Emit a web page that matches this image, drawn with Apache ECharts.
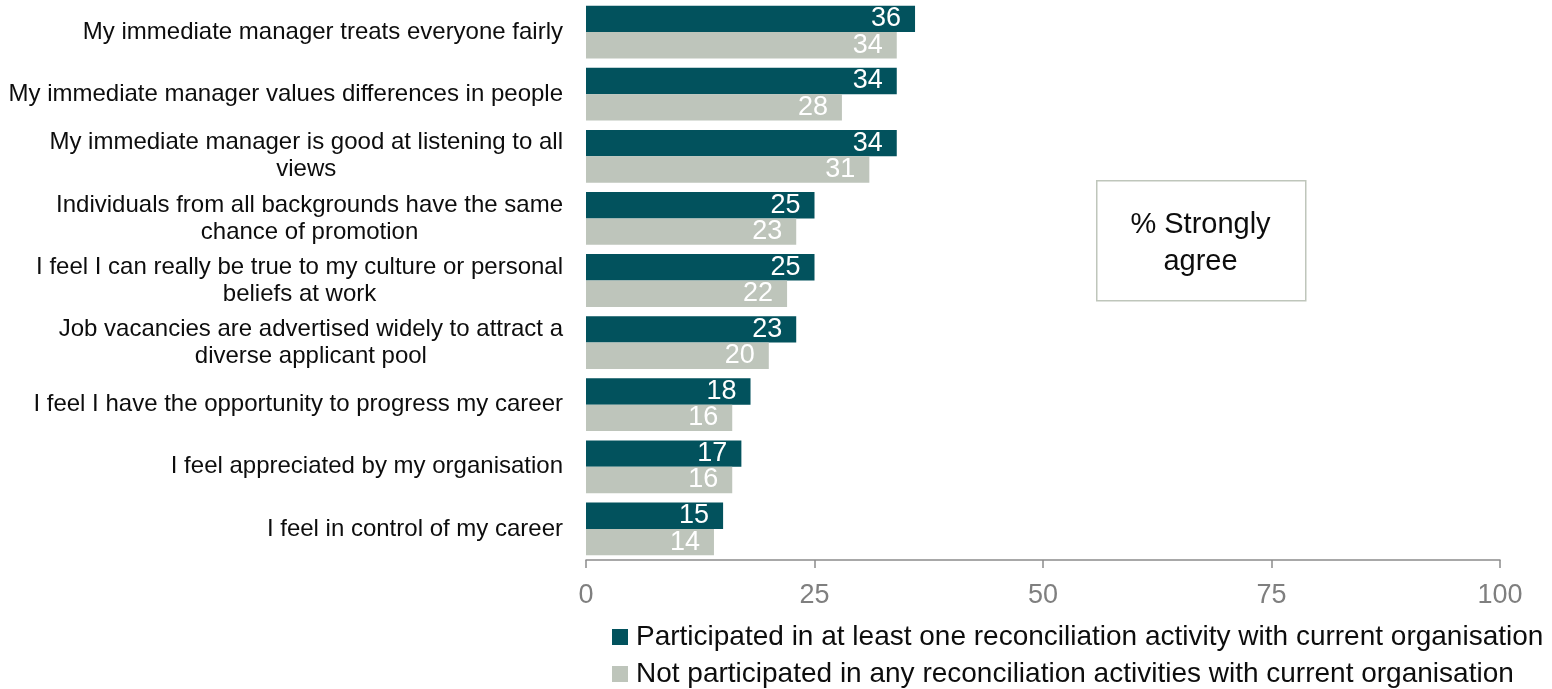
<!DOCTYPE html>
<html>
<head>
<meta charset="utf-8">
<script src="https://cdn.jsdelivr.net/npm/echarts@6/dist/echarts.min.js"></script>
<style>
  html, body { margin: 0; padding: 0; background: #fff; }
  #chart { width: 1552px; height: 689px; }
</style>
</head>
<body>
<div id="chart"></div>
<script>
// Survey statements, top to bottom
const categories = [
  'My immediate manager treats everyone fairly',
  'My immediate manager values differences in people',
  'My immediate manager is good at listening to all\nviews',
  'Individuals from all backgrounds have the same\nchance of promotion',
  'I feel I can really be true to my culture or personal\nbeliefs at work',
  'Job vacancies are advertised widely to attract a\ndiverse applicant pool',
  'I feel I have the opportunity to progress my career',
  'I feel appreciated by my organisation',
  'I feel in control of my career'
];

const seriesNames = [
  'Participated in at least one reconciliation activity with current organisation',
  'Not participated in any reconciliation activities with current organisation'
];

// % strongly agree
const participated = [36, 34, 34, 25, 25, 23, 18, 17, 15];
const notParticipated = [34, 28, 31, 23, 22, 20, 16, 16, 14];

const xTicks = [0, 25, 50, 75, 100];

const TEAL = '#02525D';
const SAGE = '#BEC5BB';
const INK = '#0D0D0D';
const FONT = '"Liberation Sans", Arial, sans-serif';

const chart = echarts.init(document.getElementById('chart'));

const valueLabel = {
  show: true,
  position: 'insideRight',
  distance: 14,
  color: '#ffffff',
  fontSize: 27,
  fontFamily: FONT
};

chart.setOption({
  animation: false,
  textStyle: { fontFamily: FONT },
  grid: { left: 586, right: 52, top: 1, bottom: 129, containLabel: false },
  xAxis: {
    type: 'value',
    min: xTicks[0],
    max: xTicks[xTicks.length - 1],
    interval: 25,
    splitLine: { show: false },
    axisLine: { show: true, lineStyle: { color: '#8C8C8C', width: 1.5 } },
    axisTick: { show: true, length: 8, lineStyle: { color: '#8C8C8C', width: 1.5 } },
    axisLabel: { color: '#7F7F7F', fontSize: 27, fontFamily: FONT, margin: 22 }
  },
  yAxis: {
    type: 'category',
    inverse: true,
    data: categories,
    axisLine: { show: false },
    axisTick: { show: false },
    axisLabel: {
      margin: 23,
      align: 'right',
      formatter: function (v) {
        return v.split('\n').map(function (l) { return '{c|' + l + '}'; }).join('\n');
      },
      rich: {
        c: { align: 'center', fontSize: 24, lineHeight: 27, color: INK, fontFamily: FONT }
      }
    }
  },
  legend: {
    orient: 'vertical',
    left: 612,
    top: 623,
    height: 66,
    padding: 0,
    itemWidth: 16,
    itemHeight: 16,
    itemGap: 9,
    icon: 'rect',
    textStyle: { fontSize: 28, lineHeight: 28, color: INK, fontFamily: FONT, padding: [0, 0, 0, 3] },
    data: seriesNames
  },
  series: [
    {
      name: seriesNames[0],
      type: 'bar',
      data: participated,
      barGap: '0%',
      barCategoryGap: '15%',
      itemStyle: { color: TEAL },
      label: valueLabel
    },
    {
      name: seriesNames[1],
      type: 'bar',
      data: notParticipated,
      barGap: '0%',
      barCategoryGap: '15%',
      itemStyle: { color: SAGE },
      label: valueLabel
    }
  ],
  graphic: [
    {
      type: 'rect',
      left: 1096,
      top: 180,
      shape: { width: 209, height: 120 },
      style: { fill: '#ffffff', stroke: '#BFC6BB', lineWidth: 1.5 }
    },
    {
      type: 'text',
      x: 1200.5,
      y: 243,
      style: {
        text: '% Strongly\nagree',
        align: 'center',
        verticalAlign: 'middle',
        fontSize: 29,
        lineHeight: 37,
        fill: INK,
        fontFamily: FONT
      }
    }
  ]
});
</script>
</body>
</html>
